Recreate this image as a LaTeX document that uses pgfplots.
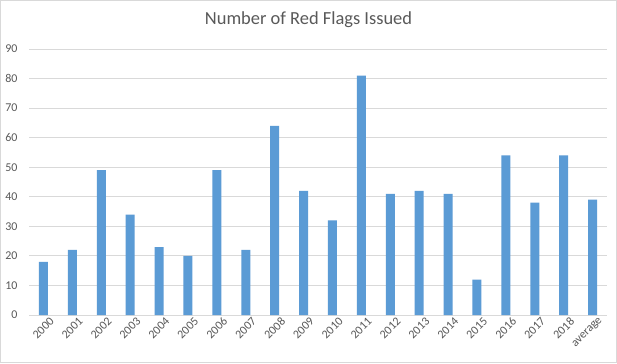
\documentclass[border=0pt]{standalone}
\usepackage{pgfplots}
\pgfplotsset{compat=1.18}
\usepackage{fontspec}
\setmainfont{Carlito}
\definecolor{barblue}{RGB}{91,155,213}
\definecolor{txtgrey}{RGB}{89,89,89}
\definecolor{gridgrey}{RGB}{217,217,217}
\begin{document}
\begin{tikzpicture}[x=1bp,y=1bp]
\path[draw=gridgrey,fill=white] (0.5,0.5) rectangle (616.5,362.5);
\node[text=txtgrey,font=\fontsize{18.5}{20}\selectfont] at (308.5,343) {Number of Red Flags Issued};
\begin{axis}[
  at={(29bp,48bp)}, anchor=south west,
  scale only axis, width=578bp, height=266bp,
  xmin=-0.5, xmax=19.5, ymin=0, ymax=90,
  ymajorgrids, grid style={gridgrey, line width=0.8pt},
  ytick={0,10,...,90},
  yticklabels={0,10,20,30,40,50,60,70,80,90},
  yticklabel style={font=\fontsize{12}{13}\selectfont, text=txtgrey, anchor=east, xshift=-8bp},
  xtick={0,...,19},
  xticklabels={2000,2001,2002,2003,2004,2005,2006,2007,2008,2009,2010,2011,2012,2013,2014,2015,2016,2017,2018,average},
  xticklabel style={font=\fontsize{12}{13}\selectfont, text=txtgrey, rotate=45,anchor=north east,inner sep=0pt,xshift=3bp,yshift=-5bp},
  axis line style={draw=none},
  major tick length=0pt,
  clip=false,
]
\addplot[ybar, bar width=9bp, fill=barblue, draw=none] coordinates {
(0,18) (1,22) (2,49) (3,34) (4,23) (5,20) (6,49) (7,22) (8,64) (9,42)
(10,32) (11,81) (12,41) (13,42) (14,41) (15,12) (16,54) (17,38) (18,54) (19,39)
};
\end{axis}
\pgfresetboundingbox
\path[use as bounding box] (0,0) rectangle (617,363);
\end{tikzpicture}
\end{document}
